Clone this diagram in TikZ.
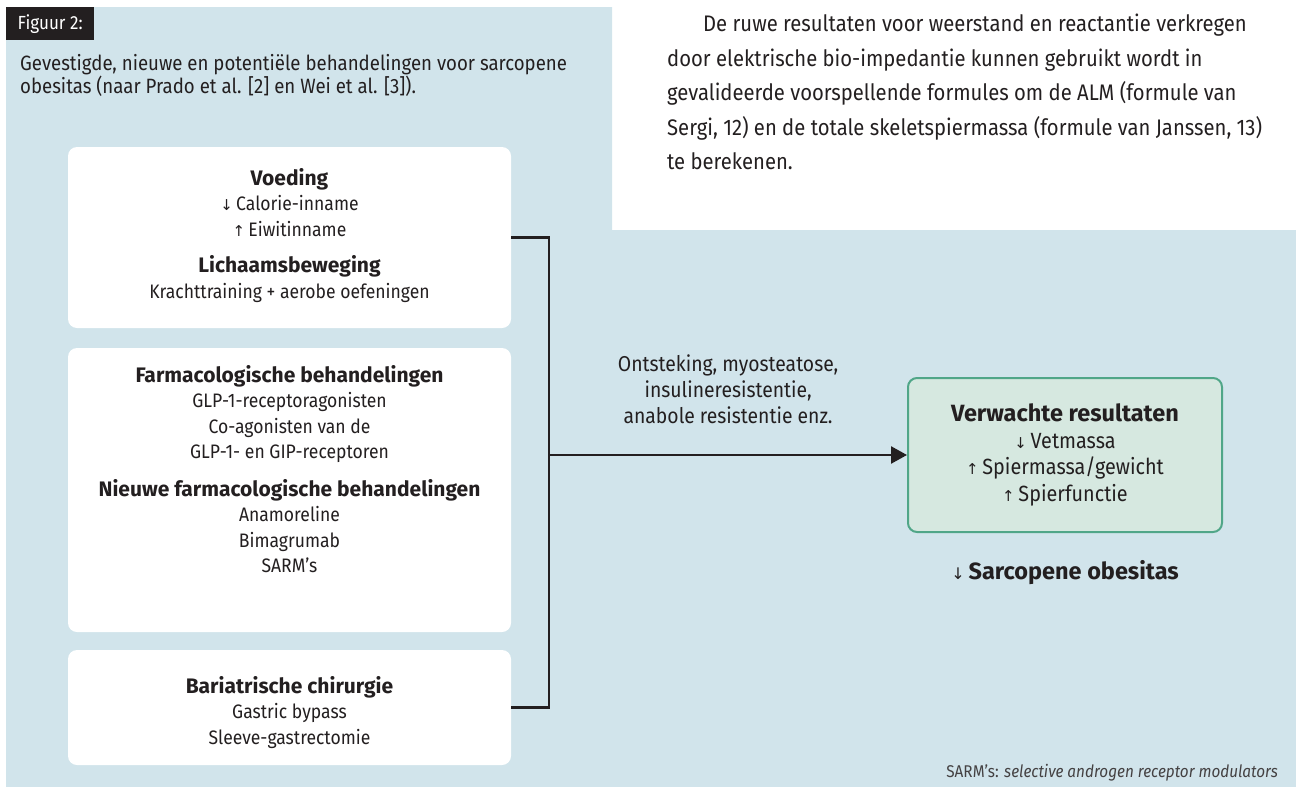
\documentclass[tikz,border=0pt]{standalone}
\usepackage{fontspec}
\setmainfont{Fira Sans}[FakeStretch=0.9]
\newfontfamily\kopfont{Fira Sans}
\newfontfamily\arrowfont{DejaVu Sans}
\usetikzlibrary{positioning,arrows.meta}

\definecolor{panelblue}{RGB}{209,228,235}
\definecolor{resultgreen}{RGB}{80,166,136}
\definecolor{resultfill}{RGB}{214,232,224}
\definecolor{ink}{RGB}{35,31,32}

\newcommand{\omlaag}{{\arrowfont\fontsize{15}{15}\selectfont ↓}\,}
\newcommand{\omhoog}{{\arrowfont\fontsize{15}{15}\selectfont ↑}\,}
\newcommand{\kop}[1]{{\kopfont\bfseries\fontsize{21}{21}\selectfont #1}}

\begin{document}
\begin{tikzpicture}[
    x=1pt, y=-1pt,
    node distance=20pt,
    >={Triangle[length=16pt,width=17pt]},
    treat/.style={fill=white, rounded corners=9pt, minimum width=443pt, inner sep=0pt},
    boxtext/.style={align=center, text=ink, inner sep=0pt, font=\fontsize{19.5}{25.5}\selectfont},
    result/.style={draw=resultgreen, fill=resultfill, line width=2pt, rounded corners=9pt,
                   minimum width=314pt, minimum height=154pt, align=center, text=ink,
                   font=\fontsize{22}{26.5}\selectfont},
    link/.style={draw=ink, line width=2.5pt}
    ]

    \useasboundingbox (0,0) rectangle (1296,787);
    \fill[panelblue] (6,7) -- (612,7) -- (612,230) -- (1296,230) -- (1296,787) -- (6,787) -- cycle;

    % kop en bijschrift
    \node[fill=ink, text=white, anchor=north west, minimum width=88pt, minimum height=33pt,
          font=\fontsize{19}{19}\selectfont] (label) at (6,7) {Figuur 2:};
    \node[anchor=north west, align=left, inner sep=0pt, text=ink,
          font=\fontsize{20.7}{23}\selectfont] (bijschrift) at (20,54)
          {Gevestigde, nieuwe en potentiële behandelingen voor sarcopene\\
           obesitas (naar Prado et al. [2] en Wei et al. [3]).};

    % lopende tekst rechtsboven
    \node[anchor=north west, align=left, inner sep=0pt, text=ink,
          font=\fontsize{22.5}{34.5}\selectfont] (alinea) at (667,14)
          {\hspace*{36pt}De ruwe resultaten voor weerstand en reactantie verkregen\\
           door elektrische bio-impedantie kunnen gebruikt wordt in\\
           gevalideerde voorspellende formules om de ALM (formule van\\
           Sergi, 12) en de totale skeletspiermassa (formule van Janssen, 13)\\
           te berekenen.};

    % behandelingen
    \node[treat, minimum height=181pt] (voeding) at (289.5,237.5) {};
    \node[boxtext, below=21pt of voeding.north] (voedingtekst)
          {\kop{Voeding}\\ \omlaag Calorie-inname\\ \omhoog Eiwitinname\\[11pt]
           \kop{Lichaamsbeweging}\\ Krachttraining + aerobe oefeningen};

    \node[treat, minimum height=284pt] (farma) at (289.5,490) {};
    \node[boxtext, below=17pt of farma.north] (farmatekst)
          {\kop{Farmacologische behandelingen}\\ GLP-1-receptoragonisten\\
           Co-agonisten van de\\ GLP-1- en GIP-receptoren\\[12pt]
           \kop{Nieuwe farmacologische behandelingen}\\ Anamoreline\\ Bimagrumab\\ SARM’s};

    \node[treat, minimum height=115pt] (bariatrie) at (289.5,707.5) {};
    \node[boxtext, below=26pt of bariatrie.north] (bariatrietekst)
          {\kop{Bariatrische chirurgie}\\ Gastric bypass\\ Sleeve-gastrectomie};

    % resultaat
    \node[result] (verwacht) at (1065,455)
          {{\kopfont\bfseries\fontsize{23.5}{23.5}\selectfont Verwachte resultaten}\\ \omlaag Vetmassa\\
           \omhoog Spiermassa/gewicht\\ \omhoog Spierfunctie};
    \node[below=27pt of verwacht, inner sep=0pt, text=ink,
          font=\kopfont\bfseries\fontsize{23.5}{23.5}\selectfont] (sarco)
          {{\arrowfont\mdseries\fontsize{16}{16}\selectfont ↓}\,Sarcopene obesitas};

    % verbindingen
    \draw[link] (voeding.east) -- ++(38,0) coordinate (hoek) |- (bariatrie.east);
    \draw[link,->] (hoek |- verwacht.west) --
          node[boxtext, above=30pt, font=\fontsize{21.5}{26}\selectfont] (mechanisme)
          {Ontsteking, myosteatose,\\ insulineresistentie,\\ anabole resistentie enz.}
          (verwacht.west);

    \node[anchor=base east, inner sep=0pt, text=ink!85,
          font=\fontsize{17}{17}\selectfont] (voetnoot) at (1278,777)
          {SARM’s: \textit{selective androgen receptor modulators}};
\end{tikzpicture}
\end{document}
